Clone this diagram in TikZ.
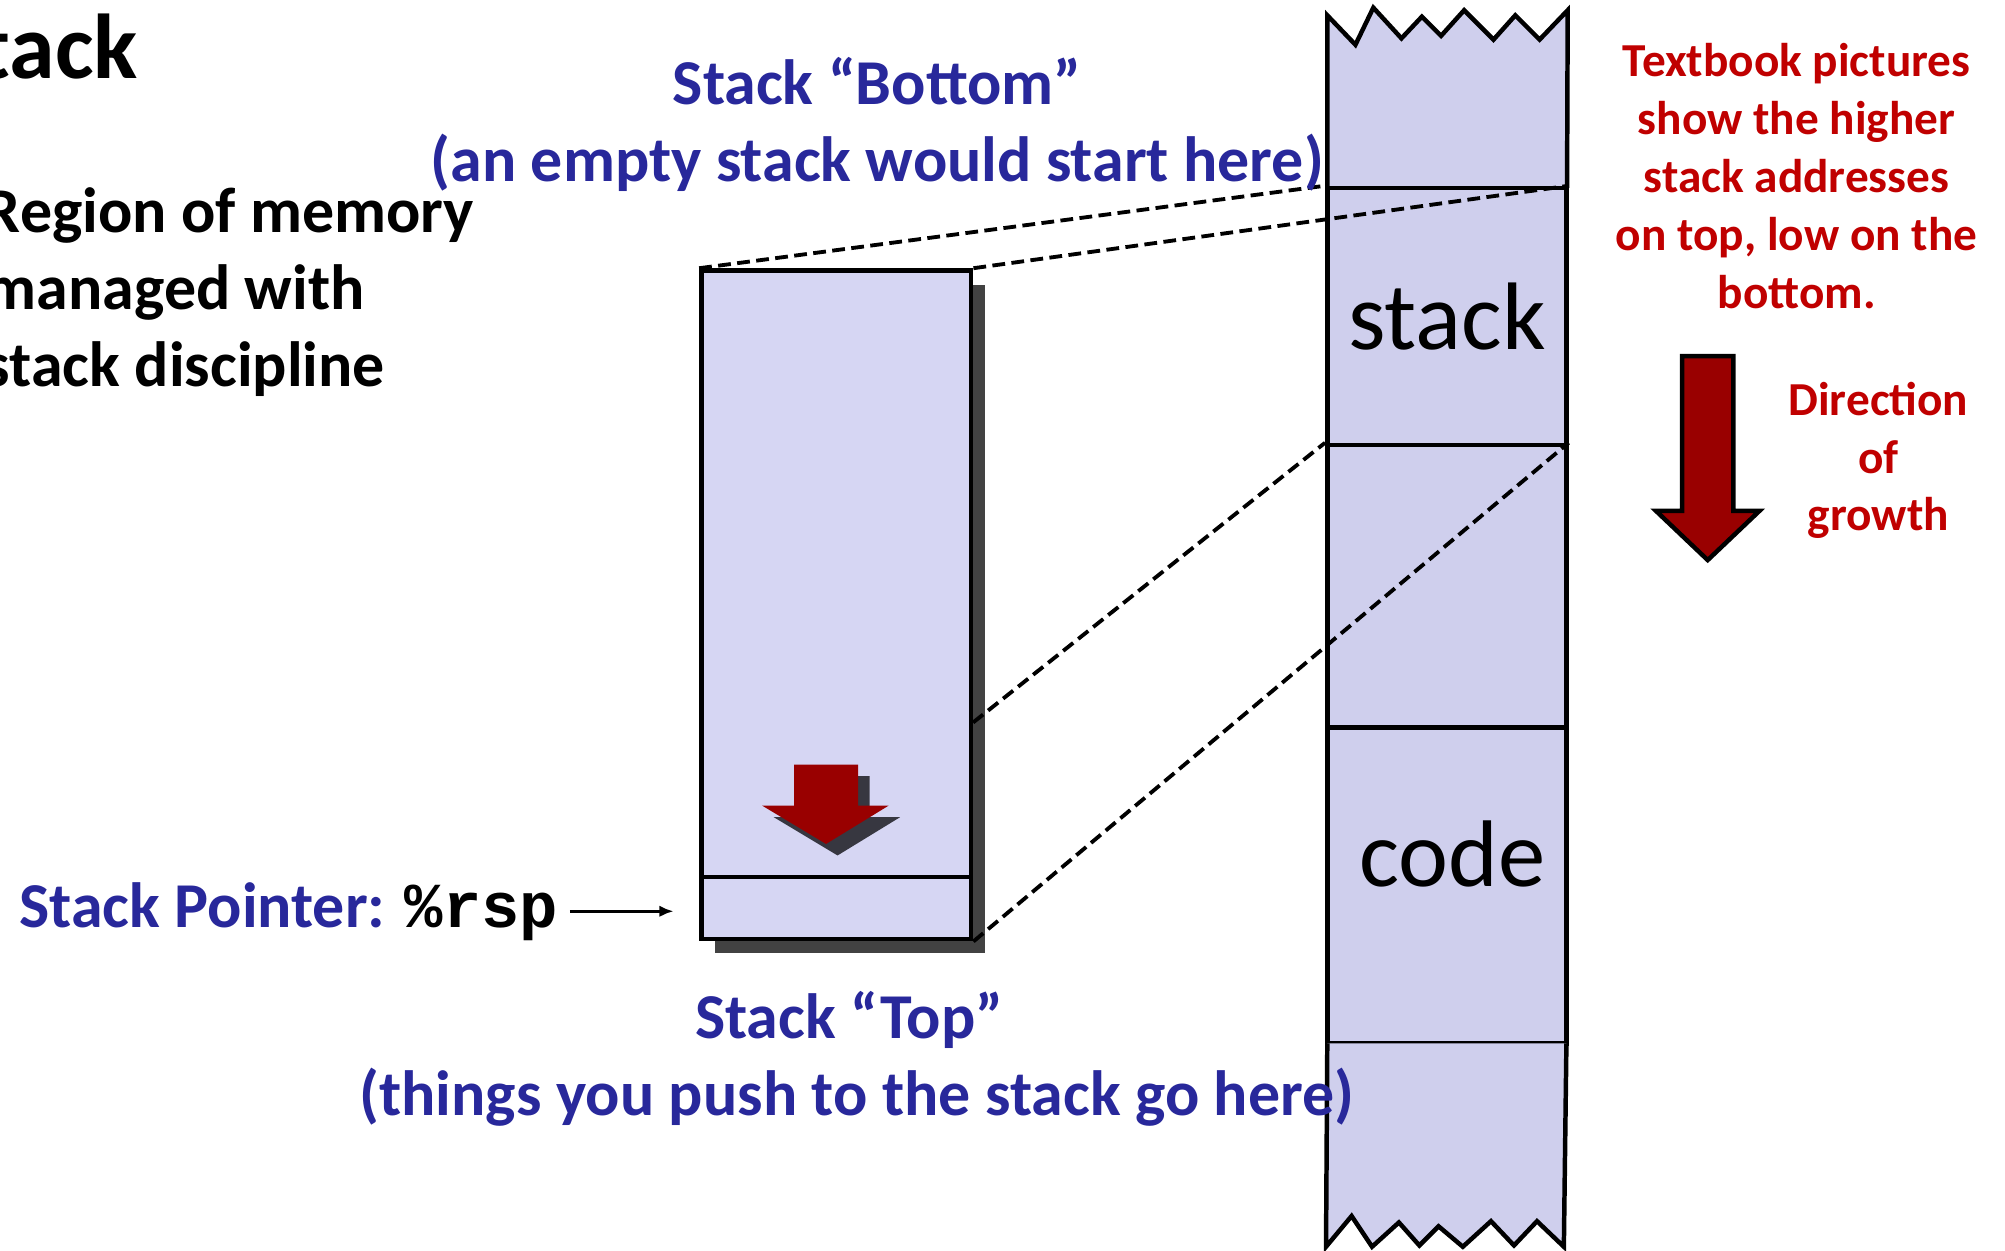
\documentclass[tikz,border=0pt]{standalone}
\usepackage{fontspec}
\setmainfont{Carlito}
\newfontfamily\codefont{Liberation Mono}
\usetikzlibrary{positioning,shadows,arrows.meta}

\definecolor{slideblue}{RGB}{40,40,155}
\definecolor{slidered}{RGB}{192,0,0}
\definecolor{arrowred}{RGB}{153,0,0}
\definecolor{framefill}{RGB}{214,214,243}
\definecolor{memfill}{RGB}{207,207,237}
\definecolor{shadegray}{RGB}{66,66,66}
\definecolor{arrowshade}{RGB}{55,55,64}

\tikzset{
  heading/.style={font=\bfseries\fontsize{72}{86}\selectfont, inner sep=0pt},
  bullet/.style={font=\bfseries\fontsize{50}{60}\selectfont, anchor=base west, inner sep=0pt},
  bluenote/.style={text=slideblue, font=\bfseries\fontsize{50}{60}\selectfont, anchor=base, inner sep=0pt},
  rednote/.style={text=slidered, font=\bfseries\fontsize{37}{45}\selectfont, anchor=base, inner sep=0pt},
  seg/.style={draw, line width=3.5pt, fill=memfill, minimum width=187pt, inner sep=0pt,
    font=\fontsize{75}{90}\selectfont},
  zoomline/.style={dash pattern=on 10pt off 5pt, line width=3pt},
}

\begin{document}
\begin{tikzpicture}[x=1pt, y=-1pt, line join=miter]
  \useasboundingbox (0,0) rectangle (1568,978);
  \clip (0,0) rectangle (1568,978);

  % title and bullet text, cut off at the left edge of the slide
  \node[heading, anchor=base east] (title) at (108,61) {Stack};
  \foreach \line [count=\i] in {Region of memory, managed with, stack discipline}
    \node[bullet] (item\i) at (-12,122+60*\i) {\line};

  % memory column
  \filldraw[fill=memfill, draw=black, line width=3.5pt]
    (1038,147) -- (1038,12) -- (1060,35) -- (1074,6) -- (1096,30) -- (1112,13) -- (1127,28)
    -- (1145,8) -- (1168,31) -- (1185,12) -- (1204,31) -- (1226,8) -- (1225.5,147);
  \node[seg, minimum height=201pt] (stk) at (1131.5,247.5) {stack};
  \node[seg, minimum height=221pt] (gap) at (1131.5,458.5) {};
  \node[seg, minimum height=247pt] (code) at (1131.5,692.5) {};
  \node[font=\fontsize{74}{88}\selectfont, anchor=base, inner sep=0pt] (codelbl) at (1136,693) {code};
  \filldraw[fill=memfill, draw=black, line width=3.5pt]
    (1038,816) -- (1037,975) -- (1057,951) -- (1073,975) -- (1094,956) -- (1110,974) -- (1125,959)
    -- (1144,975) -- (1166,955) -- (1184,974) -- (1202,955) -- (1223,975) -- (1225,816);

  % close-up of the stack
  \node[draw, line width=3.5pt, fill=framefill, minimum width=211pt, minimum height=523pt, inner sep=0pt,
    drop shadow={shadow xshift=11pt, shadow yshift=-11pt, fill=shadegray, opacity=1}] (frame) at (654,473) {};
  \node[draw, line width=3.5pt, minimum width=211pt, minimum height=48.5pt, inner sep=0pt] (slot) at (654,710.25) {};
  \fill[arrowshade, shift={(9,9)}] (621,598) -- (671,598) -- (671,630) -- (695,630) -- (646,660) -- (596,630) -- (621,630) -- cycle;
  \fill[arrowred] (621,598) -- (671,598) -- (671,630) -- (695,630) -- (646,660) -- (596,630) -- (621,630) -- cycle;

  % zoom lines
  \coordinate (cut) at (761,565);
  \draw[zoomline] (frame.north west) -- (stk.north west);
  \draw[zoomline] (frame.north east) -- (stk.north east);
  \draw[zoomline] (cut) -- (gap.north west);
  \draw[zoomline] (frame.south east) -- (gap.north east);

  \node[bluenote] (bottom) at (686,82) {Stack “Bottom”};
  \node[bluenote] (empty) at (686,142) {(an empty stack would start here)};
  \node[bluenote] (top) at (664,812) {Stack “Top”};
  \node[bluenote] (push) at (670,872) {(things you push to the stack go here)};

  \node[bluenote, anchor=base west] (sp) at (15,725) {Stack Pointer: {\codefont\color{black}\%rsp}};
  \draw[-{Latex[length=11pt,width=9pt]}, line width=2.5pt, shorten <=9pt, shorten >=20pt] (sp.east) -- (sp.east -| slot.west);

  % note and growth direction
  \foreach \line [count=\i] in {Textbook pictures, show the higher, stack addresses, {on top, low on the}, bottom.}
    \node[rednote] (note\i) at (1405,15+45.2*\i) {\line};
  \filldraw[fill=arrowred, draw=black, line width=3.5pt]
    (1315.5,278.5) -- (1355.5,278.5) -- (1355.5,399.5) -- (1376,399.5) -- (1335.5,438)
    -- (1295,399.5) -- (1315.5,399.5) -- cycle;
  \foreach \line [count=\i] in {Direction, of, growth}
    \node[rednote] (dir\i) at (1469,280+45*\i) {\line};
\end{tikzpicture}
\end{document}
